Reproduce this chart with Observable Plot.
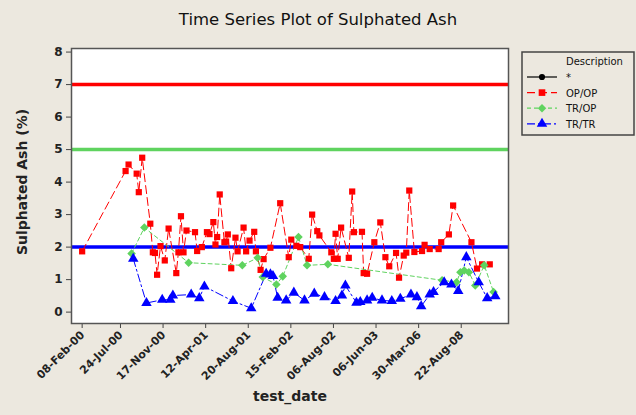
<!DOCTYPE html>
<html><head><meta charset="utf-8">
<script src="https://cdn.jsdelivr.net/npm/d3@7"></script>
<script src="https://cdn.jsdelivr.net/npm/@observablehq/plot@0.6"></script>
<style>
body{margin:0;background:#ece8df;}
#wrap{position:relative;width:636px;height:415px;overflow:hidden;background:#ece8df;}
#title{height:35px;box-sizing:border-box;padding-top:11px;line-height:18px;text-align:center;font-family:"DejaVu Sans",sans-serif;font-size:16.5px;color:#111;}
#legend{position:absolute;left:521px;top:51px;}
</style></head><body>
<div id="wrap">
<div id="title">Time Series Plot of Sulphated Ash</div>
<div id="chart"></div>
<div id="legend"></div>
</div>
<script>
// observation index (Minitab time-series order) and values
const opIndex = [1,11.2,11.9,13.8,14.3,15.1,17.0,17.6,18.1,18.6,19.4,20.4,21.3,23.1,23.6,24.2,24.8,25.5,27.5,28.0,29.1,30.3,30.9,31.8,32.3,32.7,33.3,34.4,34.8,35.2,36.0,37.0,37.5,38.9,39.5,40.3,41.4,41.8,42.9,43.6,45.2,47.5,49.5,50.1,51.3,52.2,54.2,55.0,56.2,56.7,59.5,60.1,60.5,61.0,61.8,63.6,64.4,64.8,66.7,67.1,67.9,69.6,71.0,72.2,73.1,74.7,75.4,76.5,77.1,77.8,79.0,80.8,81.4,82.6,84.7,85.3,87.1,88.1,92.4,93.7,94.9,96.7];
const opValue = [1.87,4.34,4.54,4.26,3.69,4.75,2.72,1.84,1.82,1.15,2.03,1.59,2.57,1.2,1.84,2.95,1.84,2.51,2.46,1.88,2.0,2.46,2.4,2.77,2.08,2.31,3.62,2.15,2.17,2.39,1.35,2.29,1.87,2.6,1.87,2.2,2.47,1.87,1.3,1.63,1.98,3.35,1.69,2.23,2.04,2.0,1.64,3.0,2.49,2.36,1.84,1.64,2.41,1.64,2.6,1.67,3.71,2.46,2.47,1.2,1.18,2.15,2.76,1.69,1.41,1.82,1.06,1.74,1.83,3.74,1.85,1.88,2.07,1.94,1.94,2.15,2.39,3.28,2.15,1.34,1.47,1.47];
const trOpIndex = [12.6,15.6,26.0,38.6,42.2,43.4,46.6,48.1,51.8,53.8,58.7,85.5,88.9,89.8,90.7,91.8,93.3,95.4,97.6];
const trOpValue = [1.8,2.6,1.52,1.44,1.67,1.08,0.85,1.1,2.31,1.44,1.47,0.98,0.92,1.23,1.28,1.23,0.82,1.44,0.62];
const trTrIndex = [13.0,16.1,19.8,21.7,22.3,26.6,28.5,29.7,36.4,40.7,44.2,45.2,45.8,46.9,48.9,50.7,53.2,55.5,57.9,60.5,62.0,62.8,65.4,66.3,67.9,69.1,71.4,73.7,75.7,78.2,79.6,80.6,82.6,83.5,86.0,87.7,89.3,91.2,94.1,96.1,98.0];
const trTrValue = [1.64,0.28,0.38,0.38,0.51,0.54,0.43,0.79,0.34,0.12,1.18,1.16,1.11,0.44,0.36,0.6,0.36,0.57,0.46,0.34,0.51,0.82,0.29,0.31,0.36,0.44,0.36,0.34,0.41,0.54,0.46,0.18,0.54,0.62,0.92,0.85,0.65,1.69,0.92,0.43,0.49];
const refValues = [7, 5, 2];
const tickIndex = [1,10,20,30,40,50,60,70,80,90];
const tickLabels = ["08-Feb-00","24-Jul-00","17-Nov-00","12-Apr-01","20-Aug-01","15-Feb-02","06-Aug-02","06-Jun-03","30-Mar-06","22-Aug-08"];
const yTicks = [0,1,2,3,4,5,6,7,8];

const zip = (xs, ys) => xs.map((x, k) => ({i: x, v: ys[k]}));
const op = zip(opIndex, opValue), trop = zip(trOpIndex, trOpValue), trtr = zip(trTrIndex, trTrValue);
const ticks = tickIndex.map((x, k) => ({i: x, label: tickLabels[k]}));

const RED = "#ff0000", GREEN = "#5fd35f", BLUE = "#0000ff";

const chart = Plot.plot({
  width: 636, height: 380,
  marginLeft: 71, marginRight: 128, marginTop: 13, marginBottom: 92,
  style: {background: "transparent", fontFamily: "DejaVu Sans, sans-serif", fontWeight: "bold", color: "#222", overflow: "visible"},
  x: {domain: [-1.5, 101.1]},
  y: {domain: [-0.35, 8.11]},
  marks: [
    Plot.frame({fill: "white"}),
    Plot.ruleY([refValues[0]], {stroke: RED, strokeWidth: 3.5}),
    Plot.ruleY([refValues[1]], {stroke: GREEN, strokeWidth: 3.5}),
    Plot.ruleY([refValues[2]], {stroke: BLUE, strokeWidth: 3.5}),
    Plot.line(op, {x: "i", y: "v", stroke: RED, strokeWidth: 1, strokeDasharray: "8,4"}),
    Plot.line(trop, {x: "i", y: "v", stroke: GREEN, strokeWidth: 1, strokeDasharray: "4,3"}),
    Plot.line(trtr, {x: "i", y: "v", stroke: BLUE, strokeWidth: 1, strokeDasharray: "8,3,2,3"}),
    Plot.dot(op, {x: "i", y: "v", symbol: "square", fill: RED, r: 3.5}),
    Plot.dot(trop, {x: "i", y: "v", symbol: "square", rotate: 45, fill: GREEN, r: 3.4}),
    Plot.dot(trtr, {x: "i", y: "v", symbol: "triangle", fill: BLUE, r: 3.9}),
    Plot.axisY({ticks: yTicks, tickSize: 5, tickPadding: 4, fontSize: 12, label: null, stroke: "#444"}),
    Plot.axisX({ticks: tickIndex, tickSize: 5, tickFormat: () => "", label: null, stroke: "#444"}),
    Plot.text(ticks, {x: "i", text: "label", frameAnchor: "bottom", rotate: -45, textAnchor: "end", dx: 3, dy: 12, fontSize: 11}),
    Plot.text(["Sulphated Ash (%)"], {text: d => d, frameAnchor: "left", textAnchor: "middle", rotate: -90, dx: -49, dy: -4, fontSize: 14}),
    Plot.text(["test_date"], {text: d => d, frameAnchor: "bottom", dy: 77, fontSize: 14}),
    Plot.frame({stroke: "#555", strokeWidth: 1.5})
  ]
});
document.getElementById("chart").appendChild(chart);

// legend
const legendNames = ["*", "OP/OP", "TR/OP", "TR/TR"];
const legendColors = ["#000", RED, GREEN, BLUE];
const legendDash = ["none", "8,4", "4,3", "8,3,2,3"];
const lg = d3.select("#legend").append("svg").attr("width", 114).attr("height", 85)
  .style("font-family", "DejaVu Sans, sans-serif").style("font-size", "10px");
lg.append("rect").attr("x", 1).attr("y", 1).attr("width", 112).attr("height", 83)
  .attr("fill", "none").attr("stroke", "#444").attr("stroke-width", 1.5);
lg.append("text").attr("x", 45).attr("y", 14).text("Description").attr("fill", "#111");
legendNames.forEach((name, k) => {
  const cy = 26 + k * 15.6;
  const g = lg.append("g");
  g.append("line").attr("x1", 6).attr("x2", 36).attr("y1", cy).attr("y2", cy)
    .attr("stroke", legendColors[k]).attr("stroke-width", 1.2).attr("stroke-dasharray", legendDash[k]);
  const sym = [d3.symbolCircle, d3.symbolSquare, d3.symbolSquare, d3.symbolTriangle][k];
  const size = [30, 44, 36, 48][k];
  g.append("path").attr("d", d3.symbol(sym, size)())
    .attr("transform", `translate(21,${cy})` + (k === 2 ? " rotate(45)" : ""))
    .attr("fill", legendColors[k]);
  g.append("text").attr("x", 45).attr("y", cy + 4).text(name).attr("fill", "#111");
});
</script>
</body></html>
